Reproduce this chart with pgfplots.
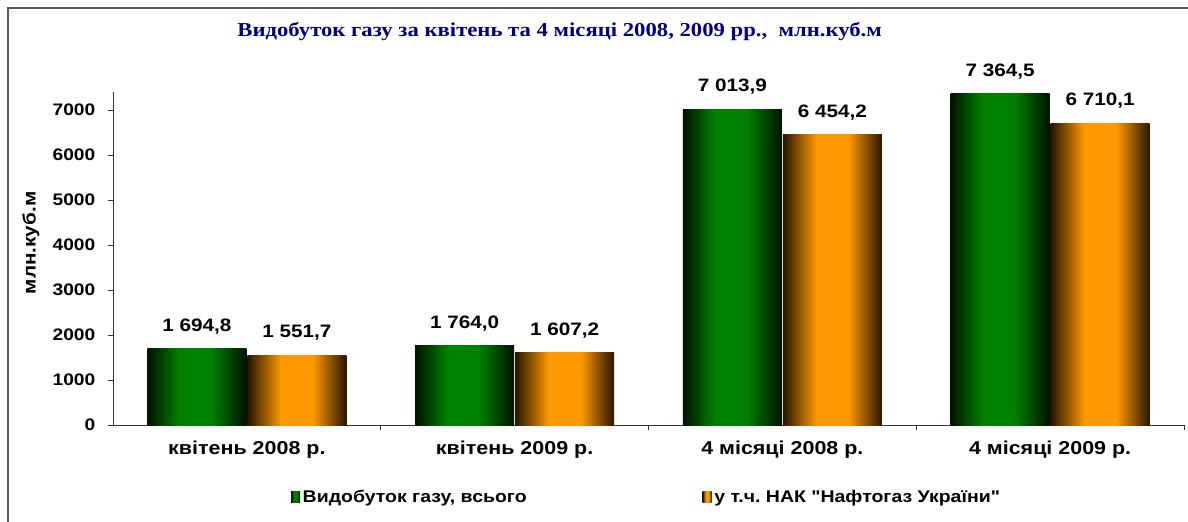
\documentclass[border=0pt]{standalone}
\usepackage{fontspec}
\setmainfont{Liberation Sans}[Ligatures=TeXOff, FakeStretch=1.15]
\newfontfamily\titlefont{Liberation Serif}[Ligatures=TeXOff, FakeStretch=1.15]
\usepackage{pgfplots}
\pgfplotsset{compat=1.18}
\frenchspacing
\definecolor{gmain}{RGB}{0,128,0}
\definecolor{gdark}{RGB}{0,18,0}
\definecolor{omain}{RGB}{255,153,0}
\definecolor{odark}{RGB}{40,20,0}
\definecolor{titleblue}{RGB}{0,0,128}
\pgfdeclarehorizontalshading{greenbar}{100bp}{color(0bp)=(gdark); color(25bp)=(gdark); color(41bp)=(gmain); color(57bp)=(gmain); color(75bp)=(gdark); color(100bp)=(gdark)}
\pgfdeclarehorizontalshading{orangebar}{100bp}{color(0bp)=(odark); color(25bp)=(odark); color(42bp)=(omain); color(58bp)=(omain); color(75bp)=(odark); color(100bp)=(odark)}
\pgfplotsset{
  gbar/.style={ybar, bar width=0.37, bar shift=-0.187, draw=none, shading=greenbar,
    every node near coord/.append style={xshift=-37.55pt},
    legend image code/.code={\shade[shading=greenbar] (0pt,-4pt) rectangle (6.75pt,4.25pt);}},
  obar/.style={ybar, bar width=0.37, bar shift=0.187, draw=none, shading=orangebar,
    every node near coord/.append style={xshift=37.55pt},
    legend image code/.code={\shade[shading=orangebar] (0pt,-4pt) rectangle (6.75pt,4.25pt);}},
}
\begin{document}
\frenchspacing
\begin{tikzpicture}
\useasboundingbox (0,0) rectangle (891pt,390.75pt);
\draw[gray!70!black, line width=0.9pt] (6pt,-5pt) -- (6pt,384.75pt) -- (900pt,384.75pt);
\begin{axis}[
  at={(84.75pt,72pt)}, anchor=south west,
  width=803.25pt, height=249.75pt, scale only axis,
  clip=false,
  xmin=-0.5, xmax=3.5, ymin=0, ymax=7400,
  axis x line*=bottom, axis y line*=left,
  axis line style={draw=black!80, line width=0.6pt},
  tick align=outside,
  xtick={0,1,2,3},
  xticklabels={квітень 2008 р., квітень 2009 р., 4 місяці 2008 р., 4 місяці 2009 р.},
  minor xtick={0.5,1.5,2.5,3.5},
  major x tick style={draw=none},
  minor x tick style={draw=black!80, line width=0.6pt},
  minor tick length=3.75pt,
  major tick length=3.75pt,
  ytick={0,1000,...,7000},
  major y tick style={draw=black!80, line width=0.6pt},
  /pgf/number format/assume math mode=true,
  /pgf/number format/1000 sep={},
  y tick label style={font=\bfseries\fontsize{12.5}{15}\selectfont, xshift=-6pt},
  x tick label style={font=\bfseries\fontsize{14}{16}\selectfont, yshift=-5pt},
  every axis y label/.style={at={(axis description cs:-0.0766,0.547)}, rotate=90, anchor=center, font=\bfseries\fontsize{13.5}{15}\selectfont},
  ylabel={млн.куб.м},
  title={Видобуток газу за квітень та 4 місяці 2008, 2009 рр.,\ \ млн.куб.м},
  title style={at={(axis description cs:0.417,1)}, anchor=center, yshift=39pt, font=\titlefont\bfseries\fontsize{14.8}{17}\selectfont, text=titleblue},
  nodes near coords={\pgfmathprintnumber[fixed,fixed zerofill,precision=1,use comma,1000 sep={\ },assume math mode=true]{\pgfplotspointmeta}},
  every node near coord/.append style={font=\bfseries\fontsize{13.5}{16}\selectfont, text=black, yshift=7.5pt},
  legend columns=2,
  legend cell align=left,
  legend style={draw=none, inner sep=0pt, at={(axis description cs:0.166,-0.216)}, anchor=west, font=\bfseries\fontsize{12.7}{15}\selectfont, /tikz/every even column/.append style={column sep=130pt}},
]
\addplot[gbar] coordinates {(0,1694.8)};
\addlegendentry{Видобуток газу, всього}
\addplot[obar] coordinates {(0,1551.7)};
\addlegendentry{у т.ч. НАК "Нафтогаз України"}
\addplot[gbar, forget plot] coordinates {(1,1764.0)};
\addplot[obar, forget plot] coordinates {(1,1607.2)};
\addplot[gbar, forget plot] coordinates {(2,7013.9)};
\addplot[obar, forget plot] coordinates {(2,6454.2)};
\addplot[gbar, forget plot] coordinates {(3,7364.5)};
\addplot[obar, forget plot] coordinates {(3,6710.1)};
\end{axis}
\end{tikzpicture}
\end{document}
